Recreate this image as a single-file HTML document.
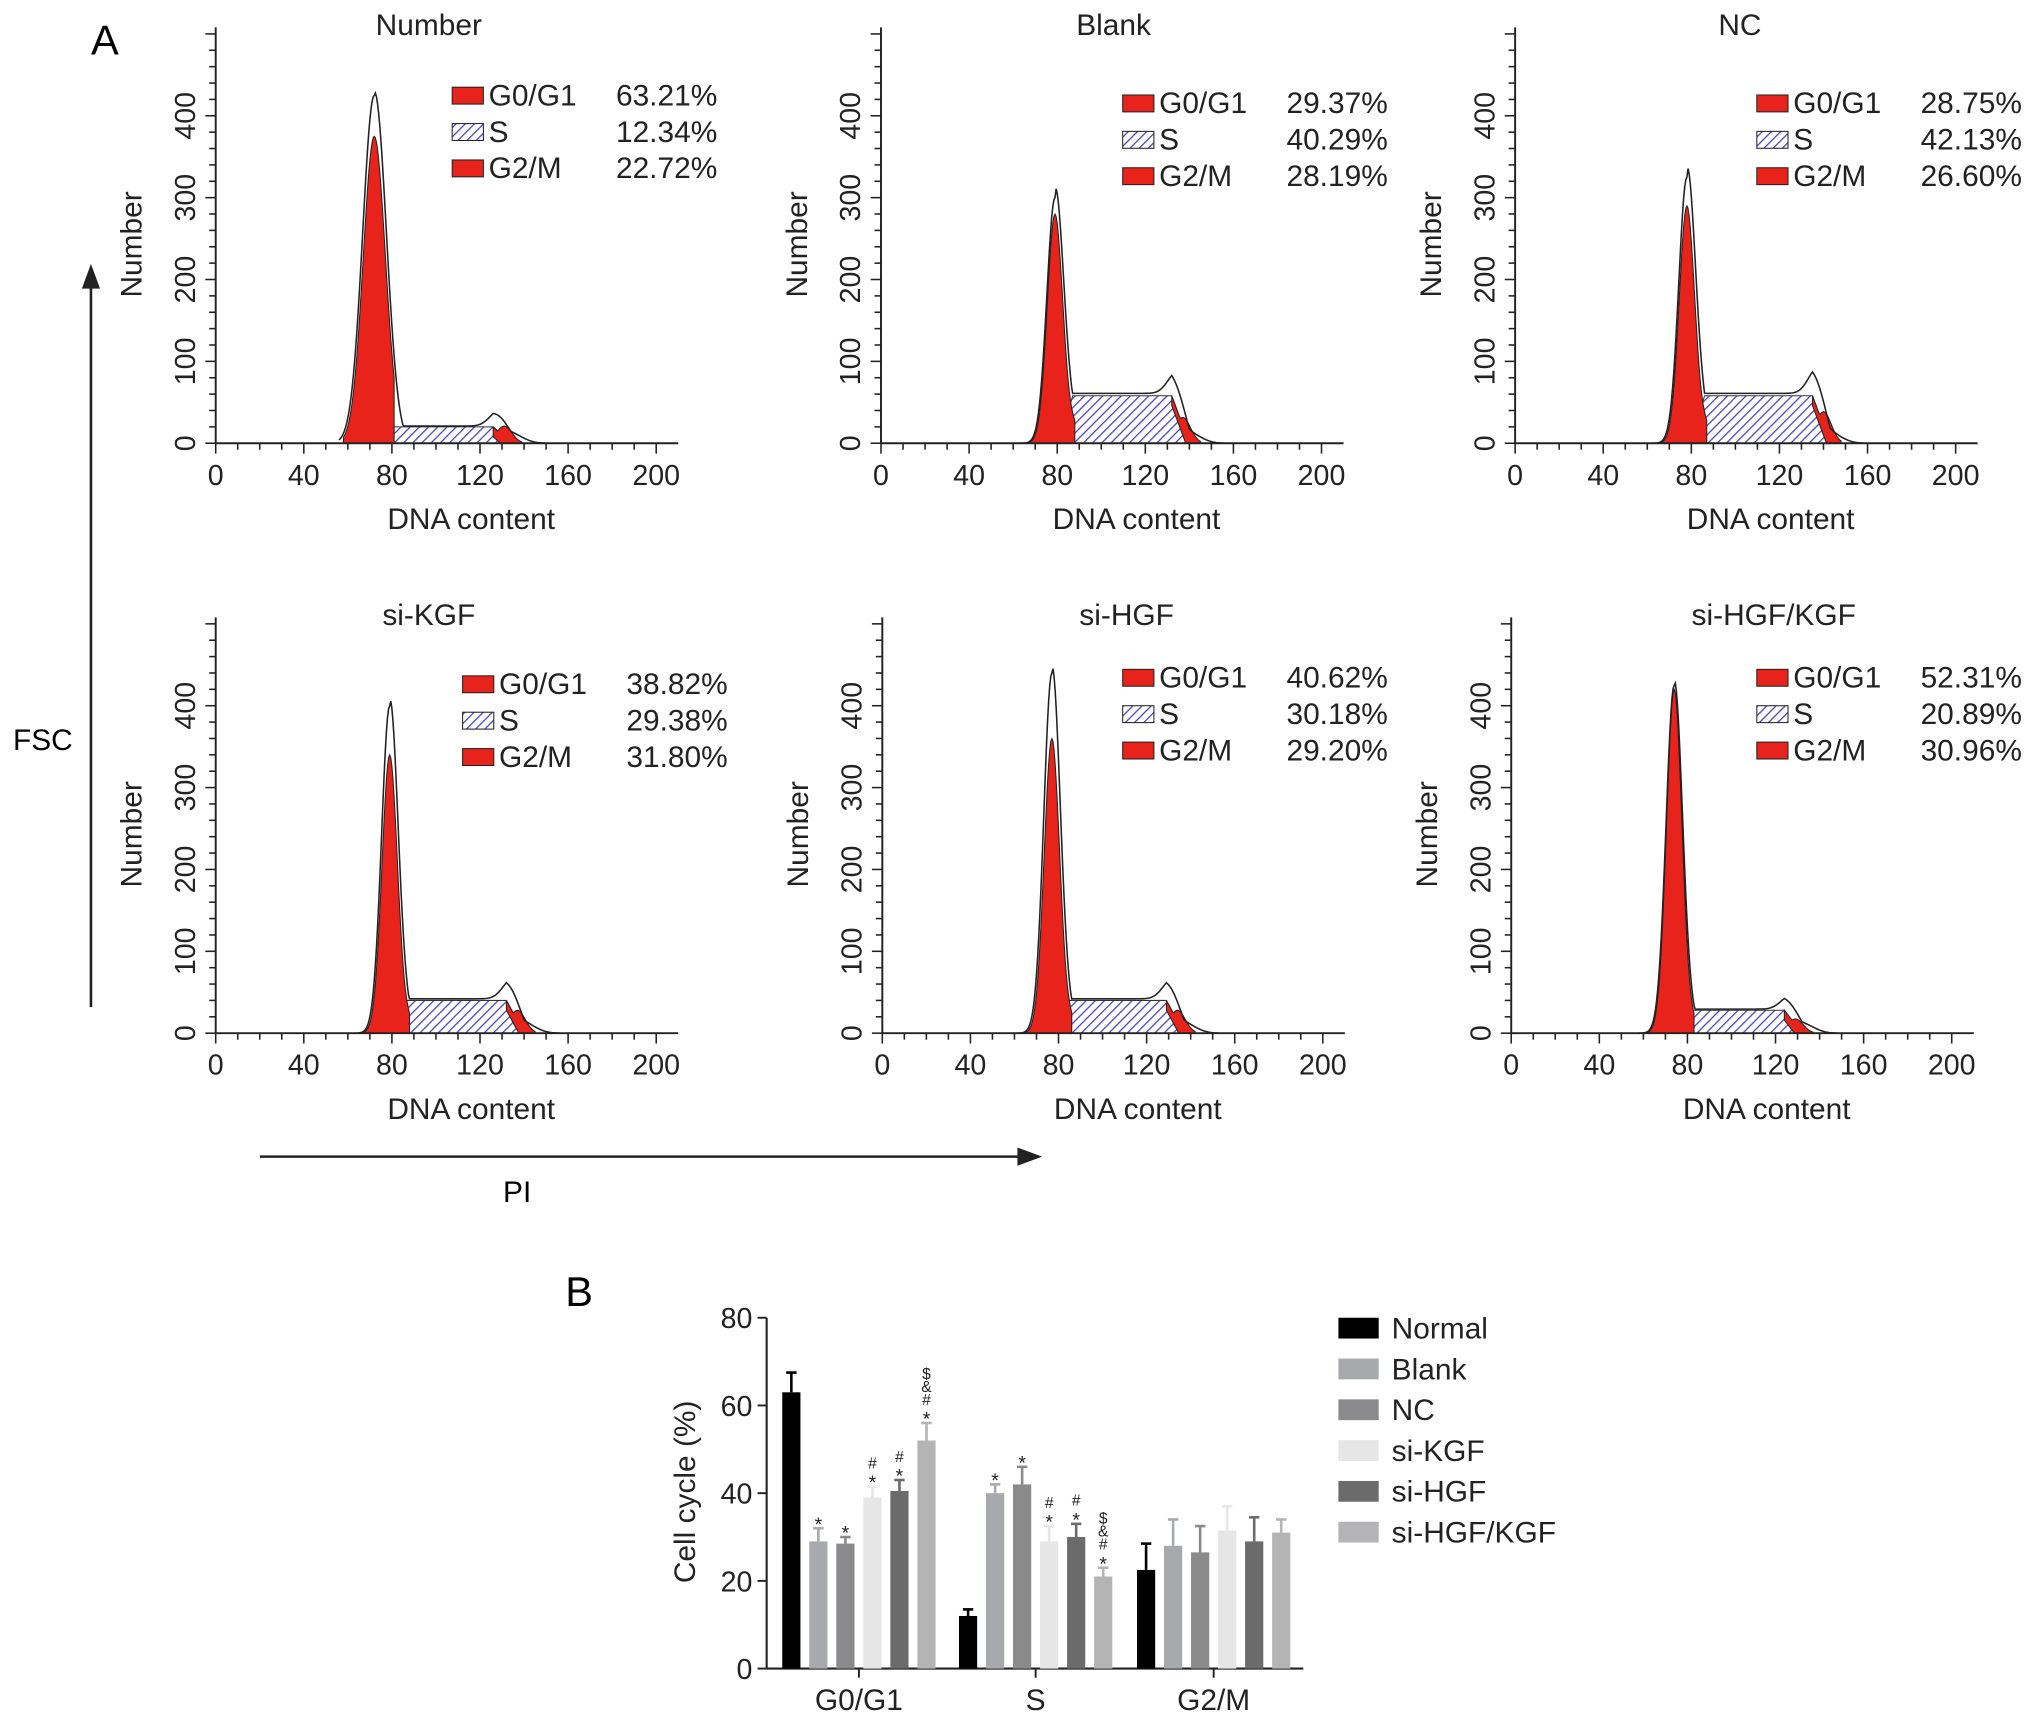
<!DOCTYPE html>
<html><head><meta charset="utf-8"><style>
html,body{margin:0;padding:0;background:#fff;}
svg{display:block;font-family:"Liberation Sans",Arial,sans-serif;}
</style></head><body>
<svg id="fig" width="2031" height="1722" viewBox="0 0 1563 1325" xmlns="http://www.w3.org/2000/svg">
<defs>
<pattern id="hatch" width="5" height="5" patternUnits="userSpaceOnUse" patternTransform="rotate(45)">
<rect width="5" height="5" fill="#fff"/><line x1="0" y1="0" x2="0" y2="5" stroke="#4848b8" stroke-width="2"/>
</pattern>
</defs>
<text x="70" y="42" font-size="32">A</text>
<text x="435" y="1005" font-size="32">B</text>
<g>
<line x1="70" y1="775" x2="70" y2="215" stroke="#222" stroke-width="2"/>
<polygon points="70,203 63,222 77,222" fill="#222"/>
</g>
<text x="33" y="577" font-size="23" text-anchor="middle">FSC</text>
<g>
<line x1="200" y1="890" x2="790" y2="890" stroke="#222" stroke-width="2"/>
<polygon points="802,890 783,883 783,897" fill="#222"/>
</g>
<text x="398" y="925" font-size="23" text-anchor="middle">PI</text>
<g id="hists"></g>
<g id="bars"></g>
</svg>
<script>
// ---- Histogram panel data ----
const panelTitles = ["Number","Blank","NC","si-KGF","si-HGF","si-HGF/KGF"];
const g1Peak = [72,79,78,79,77,74];
const g1RedHeight = [375,280,290,340,360,420];
const g1OutlineHeight = [425,300,325,400,440,425];
const sLevel = [20,58,58,40,40,28];
const g2Pos = [128,134,137,134,131,126];
const g2Height = [30,45,55,40,40,25];
const pctG1 = ["63.21%","29.37%","28.75%","38.82%","40.62%","52.31%"];
const pctS = ["12.34%","40.29%","42.13%","29.38%","30.18%","20.89%"];
const pctG2 = ["22.72%","28.19%","26.60%","31.80%","29.20%","30.96%"];
const xTicks = [0,40,80,120,160,200];
const yTicks = [0,100,200,300,400];

const NS="http://www.w3.org/2000/svg";
function mk(tag, attrs, parent){const e=document.createElementNS(NS,tag);for(const k in attrs)e.setAttribute(k,attrs[k]);if(parent)parent.appendChild(e);return e;}

const origins=[[166,341],[678,341],[1166,341],[166,795],[679,795],[1163,795]];
const titleX=[330,857,1339,330,867,1365];
const legendX=[348,864,1352,356,864,1352];
const legendY=[73,79,79,526,521,521];
const hists=document.getElementById('hists');

function gauss(v,p,h,s){return h*Math.exp(-((v-p)*(v-p))/(2*s*s));}

for(let i=0;i<6;i++){
  const [x0,y0]=origins[i];
  const X=v=>x0+v*339/200, Y=v=>y0-v*0.63;
  const g=mk('g',{},hists);
  
  
  const p=g1Peak[i], sg=i==0?5:3.5;
  const sStart=p+2, sEnd=g2Pos[i]+6;
  const sFn=v=>{if(v<sStart||v>sEnd)return 0;let f=Math.min(1,(v-sStart)/6);f=Math.min(f,(sEnd-v)/8);return sLevel[i]*Math.max(0,f);};
  let pts=[];
  for(let v=sStart;v<=sEnd;v+=0.5)pts.push(X(v)+','+Y(sFn(v)));
  const sp=mk('polygon',{points:pts.join(' '),fill:'url(#hatch)',stroke:'#333','stroke-width':0.8},g);
  
  pts=[];
  for(let v=p-14;v<=p+9;v+=0.5)pts.push(X(v)+','+Y(gauss(v,p,g1RedHeight[i],sg)+ (v>p? sFn(v)*0.3:0)));
  pts.push(X(p+9)+','+Y(0));pts.push(X(p-14)+','+Y(0));
  const r1=mk('polygon',{points:pts.join(' '),fill:'#e8231c',stroke:'#222','stroke-width':0.8},g);
  
  pts=[];const c2=g2Pos[i]+3;
  for(let v=c2-5;v<=c2+8;v+=0.5)pts.push(X(v)+','+Y(Math.max(sFn(v),gauss(v,c2,g2Height[i]*0.7,3.5))));
  pts.push(X(c2+8)+','+Y(0));
  const base=[];for(let v=c2+8;v>=c2-5;v-=0.5)base.push(X(v)+','+Y(Math.max(0,sFn(v)-12)));
  const r2=mk('polygon',{points:pts.concat(base).join(' '),fill:'#e8231c',stroke:'#222','stroke-width':0.8},g);
  
  pts=[];
  for(let v=p-16;v<=g2Pos[i]+22;v+=0.5){
    const a=gauss(v,p,g1OutlineHeight[i],sg*1.05)+ (v>p?gauss(v,p+6,sLevel[i]*0.6,4):0);
    const b=Math.max(sFn(v)*1.05,0)+gauss(v,g2Pos[i],g2Height[i]*0.5,4)+gauss(v,c2+4,10,5);
    pts.push(X(v)+','+Y(Math.max(a,b)));
  }
  const ol=mk('polyline',{points:pts.join(' '),fill:'none',stroke:'#222','stroke-width':1.2},g);
  
  mk('line',{x1:x0,y1:y0,x2:X(210),y2:y0,stroke:'#222','stroke-width':1.5},g);
  mk('line',{x1:x0,y1:y0,x2:x0,y2:y0-320,stroke:'#222','stroke-width':1.5},g);
  for(let v=0;v<=200;v+=10){const L=v%40==0?8:5;mk('line',{x1:X(v),y1:y0,x2:X(v),y2:y0+L,stroke:'#222','stroke-width':1.2},g);}
  for(let v=0;v<=500;v+=20){if(Y(v)<y0-320)break;const L=v%100==0?8:5;mk('line',{x1:x0,y1:Y(v),x2:x0-L,y2:Y(v),stroke:'#222','stroke-width':1.2},g);}
  xTicks.forEach(v=>{const t=mk('text',{x:X(v),y:y0+32,'font-size':22,'text-anchor':'middle',fill:'#222'},g);t.textContent=v;
    });
  yTicks.forEach(v=>{const t=mk('text',{x:0,y:0,'font-size':22,'text-anchor':'middle',fill:'#222',transform:`translate(${x0-16},${Y(v)}) rotate(-90)`},g);t.textContent=v;
    });
  let t=mk('text',{x:X(116),y:y0+66,'font-size':23,'text-anchor':'middle',fill:'#222'},g);t.textContent='DNA content';
  
  t=mk('text',{x:0,y:0,'font-size':23,'text-anchor':'middle',fill:'#222',transform:`translate(${x0-57},${y0-153}) rotate(-90)`},g);t.textContent='Number';
  
  t=mk('text',{x:titleX[i],y:y0-314,'font-size':23,'text-anchor':'middle',fill:'#222'},g);t.textContent=panelTitles[i];
  
  const lx=legendX[i], ly=legendY[i];
  const rows=[['G0/G1',pctG1[i],'#e8231c'],['S',pctS[i],'url(#hatch)'],['G2/M',pctG2[i],'#e8231c']];
  rows.forEach((r,k)=>{
    const yy=ly+k*28;
    const sw=mk('rect',{x:lx,y:yy-6,width:24,height:13,fill:r[2],stroke:'#222','stroke-width':0.8},g);
    
    let tt=mk('text',{x:lx+28,y:yy+8,'font-size':23,fill:'#222'},g);tt.textContent=r[0];
    
    tt=mk('text',{x:lx+204,y:yy+8,'font-size':23,fill:'#222','text-anchor':'end'},g);tt.textContent=r[1];
    
  });
}

// ---- Bar chart data ----
const phases = ["G0/G1","S","G2/M"];
const groups = ["Normal","Blank","NC","si-KGF","si-HGF","si-HGF/KGF"];
const valG1 = [63,29,28.5,39,40.5,52];
const errG1 = [4.5,3,1.5,2.5,2.5,4];
const valS = [12,40,42,29,30,21];
const errS = [1.5,2,4,3.5,3,2];
const valG2 = [22.5,28,26.5,31.5,29,31];
const errG2 = [6,6,6,5.5,5.5,3];
const sigG1 = ["","*","*","*#","*#","*#&$"];
const sigS = ["","*","*","*#","*#","*#&$"];
const sigG2 = ["","","","","",""];
const barTicks = [0,20,40,60,80];
const barColors = ["#000","#a8a9ad","#8a8a8c","#e6e6e6","#6b6b6b","#b4b4b6"];

const bars=document.getElementById('bars');
const BY=v=>1284-v*270/80;
const gx=[609,745,882], step=20.8, bw=14;
const BX=(gi,k)=>gx[gi]+k*step;
mk('line',{x1:590,y1:1284,x2:1003,y2:1284,stroke:'#222','stroke-width':1.6},bars);
mk('line',{x1:590,y1:1284,x2:590,y2:BY(80),stroke:'#222','stroke-width':1.6},bars);
barTicks.forEach(v=>{mk('line',{x1:590,y1:BY(v),x2:583,y2:BY(v),stroke:'#222','stroke-width':1.5},bars);
  const t=mk('text',{x:579,y:BY(v)+8,'font-size':22,'text-anchor':'end',fill:'#222'},bars);t.textContent=v;
  });
let tt=mk('text',{x:0,y:0,'font-size':23,'text-anchor':'middle',fill:'#222',transform:'translate(535,1148) rotate(-90)'},bars);tt.textContent='Cell cycle (%)';

const vals=[valG1,valS,valG2], errs=[errG1,errS,errG2], sigs=[sigG1,sigS,sigG2];
phases.forEach((ph,gi)=>{
  const cx=BX(gi,2.5);
  mk('line',{x1:cx,y1:1284,x2:cx,y2:1291,stroke:'#222','stroke-width':1.5},bars);
  const t=mk('text',{x:cx,y:1316,'font-size':23,'text-anchor':'middle',fill:'#222'},bars);t.textContent=ph;
  
  groups.forEach((gname,k)=>{
    const v=vals[gi][k], e=errs[gi][k], x=BX(gi,k);
    const r=mk('rect',{x:x-bw/2,y:BY(v),width:bw,height:BY(0)-BY(v),fill:barColors[k]},bars);
    
    
    mk('line',{x1:x,y1:BY(v),x2:x,y2:BY(v+e),stroke:barColors[k],'stroke-width':2},bars);
    mk('line',{x1:x-4,y1:BY(v+e),x2:x+4,y2:BY(v+e),stroke:barColors[k],'stroke-width':2},bars);
    const s=sigs[gi][k];
    for(let j=0;j<s.length;j++){
      const st=mk('text',{x:x,y:BY(v+e)-4-j*10+(s[j]=='*'?6:0),'font-size':s[j]=='*'?15:12,'text-anchor':'middle',fill:'#222'},bars);
      st.textContent=s[j];
      
    }
  });
});
groups.forEach((gname,k)=>{
  const y=1022+k*31.4;
  const sw=mk('rect',{x:1030,y:y-8,width:31,height:16,fill:barColors[k]},bars);
  
  const t=mk('text',{x:1071,y:y+8,'font-size':23,fill:'#222'},bars);t.textContent=gname;
  
});
</script>
</body></html>
